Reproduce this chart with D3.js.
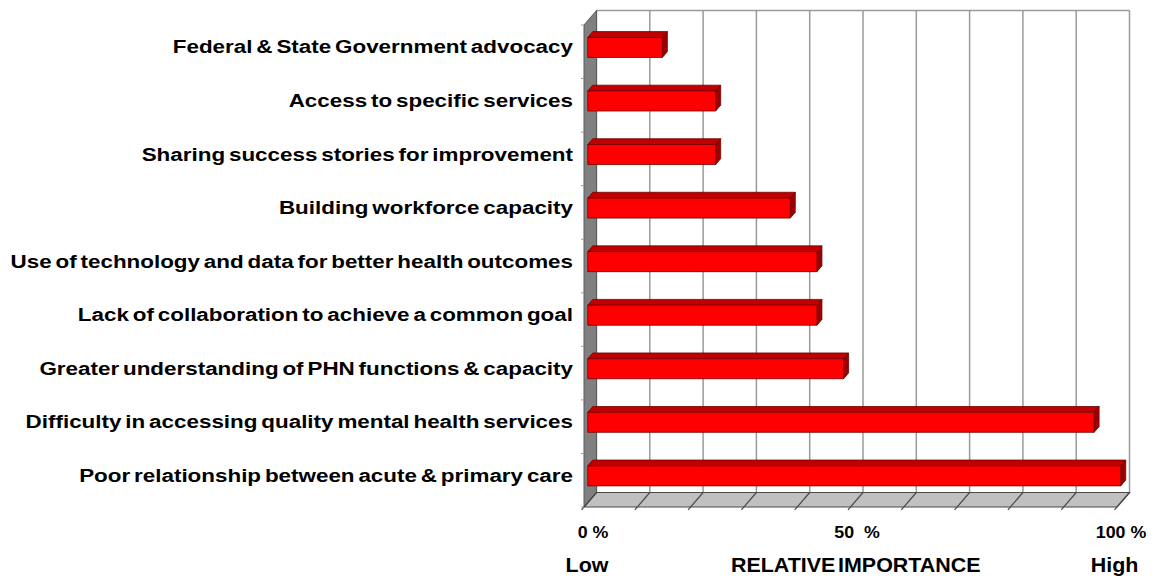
<!DOCTYPE html>
<html>
<head>
<meta charset="utf-8">
<script src="https://cdn.jsdelivr.net/npm/d3@7"></script>
<style>
  html, body { margin: 0; padding: 0; background: #ffffff; }
  svg { display: block; }
  text { font-family: "Liberation Sans", Arial, Helvetica, sans-serif; font-weight: bold; fill: #000; }
</style>
</head>
<body>
<svg id="chart" width="1154" height="578"></svg>
<script>
// ---- data ----
const categories = [
  "Federal & State Government advocacy",
  "Access to specific services",
  "Sharing success stories for improvement",
  "Building workforce capacity",
  "Use of technology and data for better health outcomes",
  "Lack of collaboration to achieve a common goal",
  "Greater understanding of PHN functions & capacity",
  "Difficulty in accessing quality mental health services",
  "Poor relationship between acute & primary care"
];
const values = [14, 24, 24, 38, 43, 43, 48, 95, 100];
const gridValues = [0, 10, 20, 30, 40, 50, 60, 70, 80, 90, 100];
const tickValues = [0, 50, 100];
const tickLabels = ["0 %", "50  %", "100 %"];
const scaleLabels = ["Low", "RELATIVE IMPORTANCE", "High"];

// ---- geometry ----
const svg = d3.select("#chart");
const X0 = 584, X1 = 1117, TOP = 25, BOTTOM = 507;
const DX = 12.5, DY = 14.5;           // depth offset of the back wall
const T0 = 0.30, T1 = 0.70;           // bar depth range (fraction)

const x = d3.scaleLinear().domain([0, 100]).range([X0, X1]);
const y = d3.scaleBand().domain(categories).range([TOP, BOTTOM])
  .paddingInner(0.626).paddingOuter(0.313);

const P = (px, py, t) => [px + t * DX, py - t * DY];
const poly = pts => pts.map(p => p.join(",")).join(" ");

// back wall
const bw0 = P(X0, TOP, 1), bw1 = P(X1, BOTTOM, 1);
svg.append("rect")
  .attr("x", bw0[0]).attr("y", bw0[1])
  .attr("width", bw1[0] - bw0[0]).attr("height", bw1[1] - bw0[1])
  .attr("fill", "#ffffff");

// back wall gridlines
svg.append("g").selectAll("line").data(gridValues).join("line")
  .attr("x1", d => P(x(d), TOP, 1)[0]).attr("x2", d => P(x(d), BOTTOM, 1)[0])
  .attr("y1", P(0, TOP, 1)[1]).attr("y2", P(0, BOTTOM, 1)[1])
  .attr("stroke", "#9a9a9a").attr("stroke-width", 1.5);
// top edge of back wall
svg.append("line")
  .attr("x1", P(X0, TOP, 1)[0]).attr("x2", P(X1, TOP, 1)[0])
  .attr("y1", P(X0, TOP, 1)[1]).attr("y2", P(X1, TOP, 1)[1])
  .attr("stroke", "#9a9a9a").attr("stroke-width", 1.5);

// left side wall
svg.append("polygon")
  .attr("points", poly([P(X0, TOP, 0), P(X0, TOP, 1), P(X0, BOTTOM, 1), P(X0, BOTTOM, 0)]))
  .attr("fill", "#808080").attr("stroke", "#5a5a5a").attr("stroke-width", 1);

// floor
svg.append("polygon")
  .attr("points", poly([P(X0, BOTTOM, 0), P(X1, BOTTOM, 0), P(X1, BOTTOM, 1), P(X0, BOTTOM, 1)]))
  .attr("fill", "#c0c0c0").attr("stroke", "#4a4a4a").attr("stroke-width", 1.2);
svg.append("g").selectAll("line").data(gridValues).join("line")
  .attr("x1", d => P(x(d), BOTTOM, -0.2)[0]).attr("y1", P(0, BOTTOM, -0.2)[1])
  .attr("x2", d => P(x(d), BOTTOM, 1)[0]).attr("y2", P(0, BOTTOM, 1)[1])
  .attr("stroke", "#4a4a4a").attr("stroke-width", 1.2);

// category ticks on left edge
const bounds = d3.range(categories.length + 1).map(i => TOP + i * (BOTTOM - TOP) / categories.length);
svg.append("g").selectAll("line").data(bounds).join("line")
  .attr("x1", X0 - 3).attr("x2", X0).attr("y1", d => d).attr("y2", d => d)
  .attr("stroke", "#9a9a9a").attr("stroke-width", 1);

// bars
const bars = svg.append("g").selectAll("g").data(categories).join("g");
bars.each(function (c, i) {
  const g = d3.select(this);
  const v = values[i];
  const yt = y(c), yb = y(c) + y.bandwidth();
  const xl = x(0), xr = x(v);
  g.append("polygon")
    .attr("points", poly([P(xl, yt, T0), P(xr, yt, T0), P(xr, yt, T1), P(xl, yt, T1)]))
    .attr("fill", "#c00000").attr("stroke", "#700000").attr("stroke-width", 0.8);
  g.append("polygon")
    .attr("points", poly([P(xr, yt, T0), P(xr, yt, T1), P(xr, yb, T1), P(xr, yb, T0)]))
    .attr("fill", "#9c0000").attr("stroke", "#700000").attr("stroke-width", 0.8);
  g.append("polygon")
    .attr("points", poly([P(xl, yt, T0), P(xr, yt, T0), P(xr, yb, T0), P(xl, yb, T0)]))
    .attr("fill", "#ff0000").attr("stroke", "#700000").attr("stroke-width", 0.8);
});

// category labels
svg.append("g").selectAll("text").data(categories).join("text")
  .attr("transform", c => `translate(573, ${P(0, y(c) + y.bandwidth() / 2, T0)[1] + 6}) scale(1.18,1)`)
  .attr("text-anchor", "end")
  .style("font-size", "19px")
  .style("word-spacing", "-2px")
  .text(c => c);

// tick labels
svg.append("g").selectAll("text").data(tickValues).join("text")
  .attr("transform", d => `translate(${x(d) + 9 - 0.05 * d}, 538) scale(1.08,1)`)
  .attr("text-anchor", "middle")
  .style("font-size", "16.5px")
  .style("white-space", "pre")
  .text((d, i) => tickLabels[i]);

// scale labels
svg.append("g").selectAll("text").data(tickValues).join("text")
  .attr("transform", d => `translate(${x(d) + 3 - 0.055 * d + (d === 50 ? 5 : 0)}, 572) scale(1.1,1)`)
  .attr("text-anchor", "middle")
  .style("font-size", "19.5px")
  .style("word-spacing", "-3px")
  .text((d, i) => scaleLabels[i]);
</script>
</body>
</html>
